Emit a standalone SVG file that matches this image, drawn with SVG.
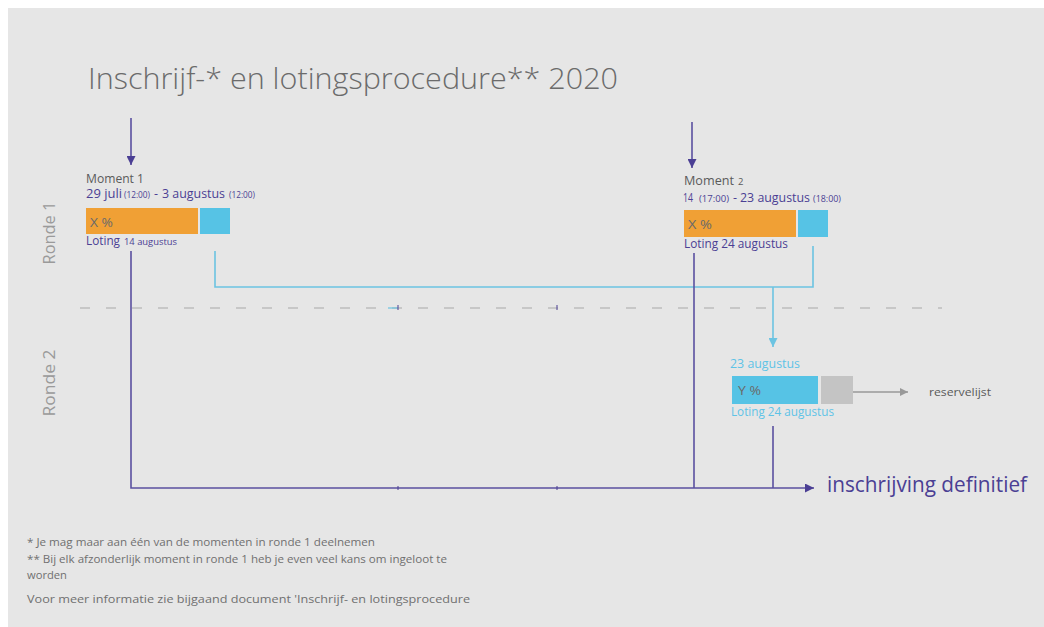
<svg xmlns="http://www.w3.org/2000/svg" width="1044" height="627" viewBox="0 0 1044 627">
<style>
  text { font-family: "Open Sans", "Noto Sans", "Liberation Sans", sans-serif; }
  .title { font-size: 30px; fill: #6b6b6b; font-weight: 300; }
  .ronde { font-size: 17px; fill: #9a9a9a; }
  .gray { fill: #5a5a5a; font-size: 12px; }
  .pur { fill: #4b3f94; font-size: 12.5px; }
  .purs { fill: #4b3f94; font-size: 8.5px; }
  .blu { fill: #5ec3e6; font-size: 12.5px; }
  .pct { fill: #6a6a6a; font-size: 13px; }
  .foot { fill: #707070; font-size: 10.5px; }
  .def { fill: #4b3f94; font-size: 21px; }
  .med { font-weight: 500; }
  .pline { stroke: #5b50a0; stroke-width: 1.6; fill: none; }
  .bline { stroke: #6cc4e2; stroke-width: 1.6; fill: none; }
  .gline { stroke: #999999; stroke-width: 1.6; fill: none; }
  .dash { stroke: #a8a8a8; stroke-width: 1.2; stroke-dasharray: 10 16; fill: none; }
</style>
<defs>
  <marker id="apL" viewBox="0 0 10 10" refX="10" refY="5" markerWidth="10" markerHeight="9" markerUnits="userSpaceOnUse" orient="auto">
    <path d="M0,0 L10,5 L0,10 z" fill="#4b3f94"/>
  </marker>
  <marker id="ab" viewBox="0 0 10 10" refX="10" refY="5" markerWidth="10" markerHeight="9" markerUnits="userSpaceOnUse" orient="auto">
    <path d="M0,0 L10,5 L0,10 z" fill="#6cc4e2"/>
  </marker>
  <marker id="ag" viewBox="0 0 10 10" refX="10" refY="5" markerWidth="10" markerHeight="8" markerUnits="userSpaceOnUse" orient="auto">
    <path d="M0,0 L10,5 L0,10 z" fill="#999999"/>
  </marker>
</defs>

<rect x="0" y="0" width="1044" height="627" fill="#ffffff"/>
<rect x="8" y="8" width="1036" height="619" fill="#e6e6e6"/>

<g id="title">
  <text class="title" x="88" y="89" textLength="530" lengthAdjust="spacingAndGlyphs">Inschrijf-* en lotingsprocedure** 2020</text>
</g>

<g id="ronde-labels">
  <text class="ronde" transform="translate(55,233) rotate(-90)" text-anchor="middle" textLength="63" lengthAdjust="spacingAndGlyphs">Ronde 1</text>
  <text class="ronde" transform="translate(55,383) rotate(-90)" text-anchor="middle" textLength="67" lengthAdjust="spacingAndGlyphs">Ronde 2</text>
</g>

<g id="divider">
  <line class="dash" x1="80" y1="308" x2="942" y2="308"/>
</g>

<g id="connectors">
  <line class="pline" x1="131" y1="118" x2="131" y2="165" marker-end="url(#apL)"/>
  <line class="pline" x1="692" y1="122" x2="692" y2="168" marker-end="url(#apL)"/>
  <polyline class="bline" points="215,251 215,287 813,287 813,246"/>
  <line class="bline" x1="773" y1="287" x2="773" y2="347" marker-end="url(#ab)"/>
  <polyline class="pline" points="131,251 131,488 814,488" marker-end="url(#apL)"/>
  <line class="pline" x1="694" y1="253" x2="694" y2="488"/>
  <line class="pline" x1="773" y1="426" x2="773" y2="488"/>
  <line stroke="#6cc4e2" stroke-width="1.2" x1="388" y1="308" x2="398" y2="308"/>
  <line stroke="#4b3f94" stroke-width="1" x1="398" y1="305" x2="398" y2="310"/>
  <line stroke="#4b3f94" stroke-width="1" x1="557" y1="305" x2="557" y2="310"/>
  <line stroke="#4b3f94" stroke-width="1" x1="398" y1="486" x2="398" y2="490"/>
  <line stroke="#4b3f94" stroke-width="1" x1="557" y1="486" x2="557" y2="490"/>
  <line class="gline" x1="843" y1="392" x2="908" y2="392" marker-end="url(#ag)"/>
</g>

<g id="moment1">
  <text class="gray" x="86" y="183" textLength="58" lengthAdjust="spacingAndGlyphs">Moment 1</text>
  <text class="pur med" x="86" y="198" textLength="36" lengthAdjust="spacingAndGlyphs">29 juli</text>
  <text class="purs" x="124" y="198" textLength="26" lengthAdjust="spacingAndGlyphs">(12:00)</text>
  <text class="pur" x="154" y="198">-</text>
  <text class="pur med" x="162" y="198" textLength="63" lengthAdjust="spacingAndGlyphs">3 augustus</text>
  <text class="purs" x="229" y="198" textLength="26" lengthAdjust="spacingAndGlyphs">(12:00)</text>
  <rect x="86" y="208" width="112" height="26" fill="#f0a035"/>
  <rect x="200" y="208" width="30" height="26" fill="#56c3e5"/>
  <text class="pct" x="90" y="227" textLength="23" lengthAdjust="spacingAndGlyphs">X %</text>
  <text class="pur" x="86" y="245" textLength="34" lengthAdjust="spacingAndGlyphs">Loting</text>
  <text class="purs" x="124" y="245" style="font-size:9.5px" textLength="53" lengthAdjust="spacingAndGlyphs">14 augustus</text>
</g>

<g id="moment2">
  <text class="gray" x="684" y="185" textLength="50" lengthAdjust="spacingAndGlyphs">Moment</text>
  <text class="gray" x="738" y="185" style="font-size:9.5px">2</text>
  <text class="pur" x="683" y="202" textLength="10" lengthAdjust="spacingAndGlyphs">14</text>
  <text class="purs" x="699" y="202" textLength="30" lengthAdjust="spacingAndGlyphs">(17:00)</text>
  <text class="pur" x="733" y="202">-</text>
  <text class="pur med" x="740" y="202" style="font-size:13px" textLength="70" lengthAdjust="spacingAndGlyphs">23 augustus</text>
  <text class="purs" x="813" y="202" textLength="28" lengthAdjust="spacingAndGlyphs">(18:00)</text>
  <rect x="684" y="210" width="112" height="27" fill="#f0a035"/>
  <rect x="798" y="210" width="30" height="27" fill="#56c3e5"/>
  <text class="pct" x="688" y="229" textLength="24" lengthAdjust="spacingAndGlyphs">X %</text>
  <text class="pur med" x="684" y="248" textLength="104" lengthAdjust="spacingAndGlyphs">Loting 24 augustus</text>
</g>

<g id="ronde2">
  <text class="blu" x="730" y="368" textLength="70" lengthAdjust="spacingAndGlyphs">23 augustus</text>
  <rect x="732" y="376" width="86" height="28" fill="#56c3e5"/>
  <rect x="821" y="376" width="32" height="28" fill="#c4c4c4"/>
  <text class="pct" x="738" y="395" textLength="23" lengthAdjust="spacingAndGlyphs">Y %</text>
  <text class="blu" x="731" y="416" textLength="103" lengthAdjust="spacingAndGlyphs">Loting 24 augustus</text>
</g>

<g id="reservelijst">
  <text class="gray" x="929" y="396" style="font-size:11.5px" textLength="62" lengthAdjust="spacingAndGlyphs">reservelijst</text>
</g>

<g id="definitief">
  <text class="def" x="827" y="492" textLength="200" lengthAdjust="spacingAndGlyphs">inschrijving definitief</text>
</g>

<g id="footnotes">
  <text class="foot" x="27" y="546" textLength="348" lengthAdjust="spacingAndGlyphs">* Je mag maar aan één van de momenten in ronde 1 deelnemen</text>
  <text class="foot" x="27" y="563" textLength="420" lengthAdjust="spacingAndGlyphs">** Bij elk afzonderlijk moment in ronde 1 heb je even veel kans om ingeloot te</text>
  <text class="foot" x="27" y="579" textLength="40" lengthAdjust="spacingAndGlyphs">worden</text>
  <text class="foot" x="27" y="603" textLength="443" lengthAdjust="spacingAndGlyphs">Voor meer informatie zie bijgaand document 'Inschrijf- en lotingsprocedure</text>
</g>
</svg>
